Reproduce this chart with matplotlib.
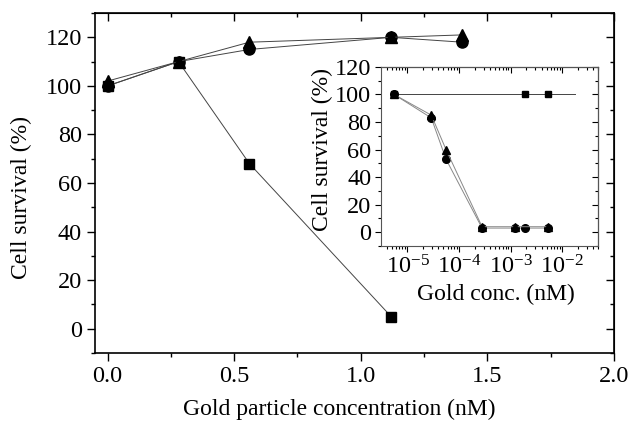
import numpy as np
import matplotlib.pyplot as plt
from matplotlib.ticker import MultipleLocator, LogLocator, NullFormatter

plt.rcParams['font.family'] = 'Liberation Serif'
plt.rcParams['mathtext.fontset'] = 'custom'
plt.rcParams['mathtext.rm'] = 'Liberation Serif'
plt.rcParams['mathtext.it'] = 'Liberation Serif:italic'

# main panel data
conc = [0.0, 0.28, 0.56, 1.12, 1.40]
sq_conc = [0.0, 0.28, 0.56, 1.12]
sq_surv = [100, 110, 68, 5]
ci_surv = [100, 110, 115, 120, 118]
tr_surv = [102, 110, 118, 120, 121]

# inset data
in_sq_conc = [5.5e-6, 1.9e-3, 5.4e-3, 1.8e-2]
in_sq_surv = [100, 100, 100, 100]
in_ci_conc = [5.5e-6, 2.9e-5, 5.6e-5, 2.8e-4, 1.2e-3, 1.9e-3, 5.4e-3]
in_ci_surv = [100, 83, 53, 3, 3, 3, 3]
in_tr_conc = [5.5e-6, 2.9e-5, 5.6e-5, 2.8e-4, 1.2e-3, 5.4e-3]
in_tr_surv = [100, 85, 60, 4, 4, 4]

fs_tick = 17.5
fs_lab = 17
line_kw = dict(color='#444444', lw=0.7)

fig = plt.figure(figsize=(6.29, 4.21), dpi=100)
ax = fig.add_axes([0.151, 0.1615, 0.825, 0.8075])

ax.plot(sq_conc, sq_surv, marker='s', ms=7.5, mfc='black', mec='black', **line_kw)
ax.plot(conc, ci_surv, marker='o', ms=8, mfc='black', mec='black', **line_kw)
ax.plot(conc, tr_surv, marker='^', ms=8.5, mfc='black', mec='black', **line_kw)

ax.set_xlim(-0.05, 2.0)
ax.set_ylim(-10, 130)
ax.xaxis.set_major_locator(MultipleLocator(0.5))
ax.xaxis.set_minor_locator(MultipleLocator(0.25))
ax.yaxis.set_major_locator(MultipleLocator(20))
ax.yaxis.set_minor_locator(MultipleLocator(10))
ax.set_yticks([0, 20, 40, 60, 80, 100, 120])
ax.tick_params(which='both', direction='out', labelsize=fs_tick, width=1)
ax.tick_params(which='major', length=6)
ax.tick_params(which='minor', length=3)
ax.set_xlabel('Gold particle concentration (nM)', fontsize=fs_lab)
ax.set_ylabel('Cell survival (%)', fontsize=fs_lab)
ax.xaxis.set_label_coords(0.47, -0.135)
ax.yaxis.set_label_coords(-0.121, 0.456)
for s in ax.spines.values():
    s.set_linewidth(1.2)

top = ax.secondary_xaxis('top')
top.xaxis.set_major_locator(MultipleLocator(0.5))
top.xaxis.set_minor_locator(MultipleLocator(0.25))
top.tick_params(which='both', direction='in', labeltop=False, width=1)
top.tick_params(which='major', length=6)
top.tick_params(which='minor', length=3)
right = ax.secondary_yaxis('right')
right.yaxis.set_major_locator(MultipleLocator(20))
right.yaxis.set_minor_locator(MultipleLocator(10))
right.tick_params(which='both', direction='in', labelright=False, width=1)
right.tick_params(which='major', length=6)
right.tick_params(which='minor', length=3)

# inset
ins = fig.add_axes([0.606, 0.4157, 0.345, 0.4253])
ins.plot(in_sq_conc, in_sq_surv, marker='s', ms=5, mfc='black', mec='black',
         markevery=[0, 1, 2], color='#444444', lw=0.7)
ins.plot(in_ci_conc, in_ci_surv, marker='o', ms=5.5, mfc='black', mec='black',
         color='#888888', lw=0.7)
ins.plot(in_tr_conc, in_tr_surv, marker='^', ms=6, mfc='black', mec='black',
         color='#888888', lw=0.7)
ins.set_xscale('log')
ins.set_xlim(10 ** -5.51, 10 ** -1.3)
ins.set_ylim(-10, 120)
ins.xaxis.set_major_locator(LogLocator(base=10, numticks=10))
ins.xaxis.set_minor_locator(LogLocator(base=10, subs=np.arange(2, 10), numticks=10))
ins.xaxis.set_minor_formatter(NullFormatter())
ins.yaxis.set_major_locator(MultipleLocator(20))
ins.yaxis.set_minor_locator(MultipleLocator(10))
ins.set_yticks([0, 20, 40, 60, 80, 100, 120])
ins.tick_params(which='both', direction='out', labelsize=fs_tick, width=0.8, pad=3)
ins.tick_params(which='major', length=4)
ins.tick_params(which='minor', length=2)
ins.set_xlabel('Gold conc. (nM)', fontsize=fs_lab)
ins.set_ylabel('Cell survival (%)', fontsize=fs_lab)
ins.xaxis.set_label_coords(0.527, -0.21)
ins.yaxis.set_label_coords(-0.22, 0.54)
for s in ins.spines.values():
    s.set_linewidth(0.8)
    s.set_color('#555555')

itop = ins.secondary_xaxis('top')
itop.set_xscale('log')
itop.xaxis.set_major_locator(LogLocator(base=10, numticks=10))
itop.xaxis.set_minor_locator(LogLocator(base=10, subs=np.arange(2, 10), numticks=10))
itop.tick_params(which='both', direction='in', labeltop=False, width=0.8)
itop.tick_params(which='major', length=4)
itop.tick_params(which='minor', length=2)
iright = ins.secondary_yaxis('right')
iright.yaxis.set_major_locator(MultipleLocator(20))
iright.yaxis.set_minor_locator(MultipleLocator(10))
iright.tick_params(which='both', direction='in', labelright=False, width=0.8)
iright.tick_params(which='major', length=4)
iright.tick_params(which='minor', length=2)

fig.savefig('out.png', dpi=100)
